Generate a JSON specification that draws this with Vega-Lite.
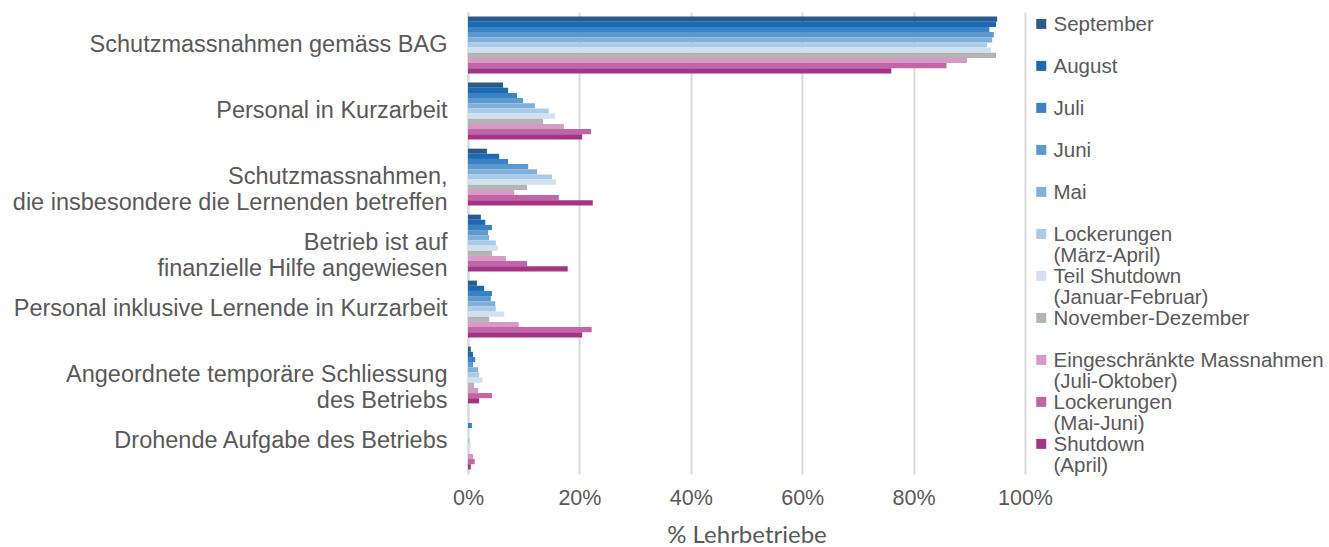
{
  "$schema": "https://vega.github.io/schema/vega-lite/v6.json",
  "width": 557,
  "height": 462,
  "autosize": "none",
  "padding": {"left": 468, "top": 12, "right": 304, "bottom": 73},
  "background": "white",
  "data": {"values": [
    {"kategorie": "Schutzmassnahmen gemäss BAG", "zeitraum": "September", "anteil": 0.950},
    {"kategorie": "Schutzmassnahmen gemäss BAG", "zeitraum": "August", "anteil": 0.948},
    {"kategorie": "Schutzmassnahmen gemäss BAG", "zeitraum": "Juli", "anteil": 0.936},
    {"kategorie": "Schutzmassnahmen gemäss BAG", "zeitraum": "Juni", "anteil": 0.944},
    {"kategorie": "Schutzmassnahmen gemäss BAG", "zeitraum": "Mai", "anteil": 0.941},
    {"kategorie": "Schutzmassnahmen gemäss BAG", "zeitraum": "Lockerungen (März-April)", "anteil": 0.932},
    {"kategorie": "Schutzmassnahmen gemäss BAG", "zeitraum": "Teil Shutdown (Januar-Februar)", "anteil": 0.939},
    {"kategorie": "Schutzmassnahmen gemäss BAG", "zeitraum": "November-Dezember", "anteil": 0.948},
    {"kategorie": "Schutzmassnahmen gemäss BAG", "zeitraum": "Eingeschränkte Massnahmen (Juli-Oktober)", "anteil": 0.896},
    {"kategorie": "Schutzmassnahmen gemäss BAG", "zeitraum": "Lockerungen (Mai-Juni)", "anteil": 0.859},
    {"kategorie": "Schutzmassnahmen gemäss BAG", "zeitraum": "Shutdown (April)", "anteil": 0.760},
    {"kategorie": "Personal in Kurzarbeit", "zeitraum": "September", "anteil": 0.063},
    {"kategorie": "Personal in Kurzarbeit", "zeitraum": "August", "anteil": 0.072},
    {"kategorie": "Personal in Kurzarbeit", "zeitraum": "Juli", "anteil": 0.088},
    {"kategorie": "Personal in Kurzarbeit", "zeitraum": "Juni", "anteil": 0.099},
    {"kategorie": "Personal in Kurzarbeit", "zeitraum": "Mai", "anteil": 0.120},
    {"kategorie": "Personal in Kurzarbeit", "zeitraum": "Lockerungen (März-April)", "anteil": 0.145},
    {"kategorie": "Personal in Kurzarbeit", "zeitraum": "Teil Shutdown (Januar-Februar)", "anteil": 0.156},
    {"kategorie": "Personal in Kurzarbeit", "zeitraum": "November-Dezember", "anteil": 0.135},
    {"kategorie": "Personal in Kurzarbeit", "zeitraum": "Eingeschränkte Massnahmen (Juli-Oktober)", "anteil": 0.172},
    {"kategorie": "Personal in Kurzarbeit", "zeitraum": "Lockerungen (Mai-Juni)", "anteil": 0.221},
    {"kategorie": "Personal in Kurzarbeit", "zeitraum": "Shutdown (April)", "anteil": 0.205},
    {"kategorie": "Schutzmassnahmen, die insbesondere die Lernenden betreffen", "zeitraum": "September", "anteil": 0.034},
    {"kategorie": "Schutzmassnahmen, die insbesondere die Lernenden betreffen", "zeitraum": "August", "anteil": 0.056},
    {"kategorie": "Schutzmassnahmen, die insbesondere die Lernenden betreffen", "zeitraum": "Juli", "anteil": 0.072},
    {"kategorie": "Schutzmassnahmen, die insbesondere die Lernenden betreffen", "zeitraum": "Juni", "anteil": 0.108},
    {"kategorie": "Schutzmassnahmen, die insbesondere die Lernenden betreffen", "zeitraum": "Mai", "anteil": 0.124},
    {"kategorie": "Schutzmassnahmen, die insbesondere die Lernenden betreffen", "zeitraum": "Lockerungen (März-April)", "anteil": 0.151},
    {"kategorie": "Schutzmassnahmen, die insbesondere die Lernenden betreffen", "zeitraum": "Teil Shutdown (Januar-Februar)", "anteil": 0.158},
    {"kategorie": "Schutzmassnahmen, die insbesondere die Lernenden betreffen", "zeitraum": "November-Dezember", "anteil": 0.106},
    {"kategorie": "Schutzmassnahmen, die insbesondere die Lernenden betreffen", "zeitraum": "Eingeschränkte Massnahmen (Juli-Oktober)", "anteil": 0.083},
    {"kategorie": "Schutzmassnahmen, die insbesondere die Lernenden betreffen", "zeitraum": "Lockerungen (Mai-Juni)", "anteil": 0.163},
    {"kategorie": "Schutzmassnahmen, die insbesondere die Lernenden betreffen", "zeitraum": "Shutdown (April)", "anteil": 0.224},
    {"kategorie": "Betrieb ist auf finanzielle Hilfe angewiesen", "zeitraum": "September", "anteil": 0.023},
    {"kategorie": "Betrieb ist auf finanzielle Hilfe angewiesen", "zeitraum": "August", "anteil": 0.031},
    {"kategorie": "Betrieb ist auf finanzielle Hilfe angewiesen", "zeitraum": "Juli", "anteil": 0.043},
    {"kategorie": "Betrieb ist auf finanzielle Hilfe angewiesen", "zeitraum": "Juni", "anteil": 0.036},
    {"kategorie": "Betrieb ist auf finanzielle Hilfe angewiesen", "zeitraum": "Mai", "anteil": 0.038},
    {"kategorie": "Betrieb ist auf finanzielle Hilfe angewiesen", "zeitraum": "Lockerungen (März-April)", "anteil": 0.050},
    {"kategorie": "Betrieb ist auf finanzielle Hilfe angewiesen", "zeitraum": "Teil Shutdown (Januar-Februar)", "anteil": 0.054},
    {"kategorie": "Betrieb ist auf finanzielle Hilfe angewiesen", "zeitraum": "November-Dezember", "anteil": 0.043},
    {"kategorie": "Betrieb ist auf finanzielle Hilfe angewiesen", "zeitraum": "Eingeschränkte Massnahmen (Juli-Oktober)", "anteil": 0.068},
    {"kategorie": "Betrieb ist auf finanzielle Hilfe angewiesen", "zeitraum": "Lockerungen (Mai-Juni)", "anteil": 0.106},
    {"kategorie": "Betrieb ist auf finanzielle Hilfe angewiesen", "zeitraum": "Shutdown (April)", "anteil": 0.179},
    {"kategorie": "Personal inklusive Lernende in Kurzarbeit", "zeitraum": "September", "anteil": 0.016},
    {"kategorie": "Personal inklusive Lernende in Kurzarbeit", "zeitraum": "August", "anteil": 0.029},
    {"kategorie": "Personal inklusive Lernende in Kurzarbeit", "zeitraum": "Juli", "anteil": 0.043},
    {"kategorie": "Personal inklusive Lernende in Kurzarbeit", "zeitraum": "Juni", "anteil": 0.041},
    {"kategorie": "Personal inklusive Lernende in Kurzarbeit", "zeitraum": "Mai", "anteil": 0.049},
    {"kategorie": "Personal inklusive Lernende in Kurzarbeit", "zeitraum": "Lockerungen (März-April)", "anteil": 0.050},
    {"kategorie": "Personal inklusive Lernende in Kurzarbeit", "zeitraum": "Teil Shutdown (Januar-Februar)", "anteil": 0.065},
    {"kategorie": "Personal inklusive Lernende in Kurzarbeit", "zeitraum": "November-Dezember", "anteil": 0.038},
    {"kategorie": "Personal inklusive Lernende in Kurzarbeit", "zeitraum": "Eingeschränkte Massnahmen (Juli-Oktober)", "anteil": 0.091},
    {"kategorie": "Personal inklusive Lernende in Kurzarbeit", "zeitraum": "Lockerungen (Mai-Juni)", "anteil": 0.222},
    {"kategorie": "Personal inklusive Lernende in Kurzarbeit", "zeitraum": "Shutdown (April)", "anteil": 0.205},
    {"kategorie": "Angeordnete temporäre Schliessung des Betriebs", "zeitraum": "September", "anteil": 0.005},
    {"kategorie": "Angeordnete temporäre Schliessung des Betriebs", "zeitraum": "August", "anteil": 0.009},
    {"kategorie": "Angeordnete temporäre Schliessung des Betriebs", "zeitraum": "Juli", "anteil": 0.013},
    {"kategorie": "Angeordnete temporäre Schliessung des Betriebs", "zeitraum": "Juni", "anteil": 0.009},
    {"kategorie": "Angeordnete temporäre Schliessung des Betriebs", "zeitraum": "Mai", "anteil": 0.018},
    {"kategorie": "Angeordnete temporäre Schliessung des Betriebs", "zeitraum": "Lockerungen (März-April)", "anteil": 0.020},
    {"kategorie": "Angeordnete temporäre Schliessung des Betriebs", "zeitraum": "Teil Shutdown (Januar-Februar)", "anteil": 0.026},
    {"kategorie": "Angeordnete temporäre Schliessung des Betriebs", "zeitraum": "November-Dezember", "anteil": 0.011},
    {"kategorie": "Angeordnete temporäre Schliessung des Betriebs", "zeitraum": "Eingeschränkte Massnahmen (Juli-Oktober)", "anteil": 0.018},
    {"kategorie": "Angeordnete temporäre Schliessung des Betriebs", "zeitraum": "Lockerungen (Mai-Juni)", "anteil": 0.043},
    {"kategorie": "Angeordnete temporäre Schliessung des Betriebs", "zeitraum": "Shutdown (April)", "anteil": 0.020},
    {"kategorie": "Drohende Aufgabe des Betriebs", "zeitraum": "September", "anteil": 0.0},
    {"kategorie": "Drohende Aufgabe des Betriebs", "zeitraum": "August", "anteil": 0.0},
    {"kategorie": "Drohende Aufgabe des Betriebs", "zeitraum": "Juli", "anteil": 0.007},
    {"kategorie": "Drohende Aufgabe des Betriebs", "zeitraum": "Juni", "anteil": 0.0},
    {"kategorie": "Drohende Aufgabe des Betriebs", "zeitraum": "Mai", "anteil": 0.0},
    {"kategorie": "Drohende Aufgabe des Betriebs", "zeitraum": "Lockerungen (März-April)", "anteil": 0.003},
    {"kategorie": "Drohende Aufgabe des Betriebs", "zeitraum": "Teil Shutdown (Januar-Februar)", "anteil": 0.005},
    {"kategorie": "Drohende Aufgabe des Betriebs", "zeitraum": "November-Dezember", "anteil": 0.0},
    {"kategorie": "Drohende Aufgabe des Betriebs", "zeitraum": "Eingeschränkte Massnahmen (Juli-Oktober)", "anteil": 0.009},
    {"kategorie": "Drohende Aufgabe des Betriebs", "zeitraum": "Lockerungen (Mai-Juni)", "anteil": 0.012},
    {"kategorie": "Drohende Aufgabe des Betriebs", "zeitraum": "Shutdown (April)", "anteil": 0.005}
  ]},
  "mark": {"type": "bar"},
  "encoding": {
    "y": {
      "field": "kategorie", "type": "nominal",
      "sort": ["Schutzmassnahmen gemäss BAG", "Personal in Kurzarbeit", "Schutzmassnahmen, die insbesondere die Lernenden betreffen", "Betrieb ist auf finanzielle Hilfe angewiesen", "Personal inklusive Lernende in Kurzarbeit", "Angeordnete temporäre Schliessung des Betriebs", "Drohende Aufgabe des Betriebs"],
      "scale": {"paddingInner": 0.14, "paddingOuter": 0.07},
      "axis": {
        "title": null, "ticks": false, "grid": false,
        "domain": true, "domainColor": "#d9d9d9", "domainWidth": 2,
        "labelFont": "Liberation Sans", "labelFontSize": 23.5, "labelColor": "#595959",
        "labelPadding": 21, "labelLimit": 600, "labelAlign": "right", "labelBaseline": "middle",
        "labelExpr": "datum.label == 'Schutzmassnahmen, die insbesondere die Lernenden betreffen' ? ['Schutzmassnahmen,', 'die insbesondere die Lernenden betreffen'] : datum.label == 'Betrieb ist auf finanzielle Hilfe angewiesen' ? ['Betrieb ist auf', 'finanzielle Hilfe angewiesen'] : datum.label == 'Angeordnete temporäre Schliessung des Betriebs' ? ['Angeordnete temporäre Schliessung', 'des Betriebs'] : datum.label"
      }
    },
    "yOffset": {
      "field": "zeitraum", "type": "nominal",
      "sort": ["September", "August", "Juli", "Juni", "Mai", "Lockerungen (März-April)", "Teil Shutdown (Januar-Februar)", "November-Dezember", "Eingeschränkte Massnahmen (Juli-Oktober)", "Lockerungen (Mai-Juni)", "Shutdown (April)"],
      "scale": {"paddingInner": 0, "paddingOuter": 0}
    },
    "x": {
      "field": "anteil", "type": "quantitative",
      "scale": {"domain": [0, 1]},
      "axis": {
        "title": "% Lehrbetriebe", "titleFont": "Lato", "titleFontSize": 24, "titleFontWeight": "normal", "titleColor": "#595959", "titlePadding": 15,
        "values": [0, 0.2, 0.4, 0.6, 0.8, 1], "format": ".0%", "labelFlush": false,
        "labelFont": "Liberation Sans", "labelFontSize": 21.5, "labelColor": "#595959", "labelPadding": 13,
        "ticks": false, "domain": false, "grid": true, "gridColor": "#d9d9d9", "gridWidth": 2
      }
    },
    "color": {
      "field": "zeitraum", "type": "nominal",
      "scale": {
        "domain": ["September", "August", "Juli", "Juni", "Mai", "Lockerungen (März-April)", "Teil Shutdown (Januar-Februar)", "November-Dezember", "Eingeschränkte Massnahmen (Juli-Oktober)", "Lockerungen (Mai-Juni)", "Shutdown (April)"],
        "range": ["#2b5b89", "#1a6ab5", "#3b82c4", "#5b9ad1", "#7fb0da", "#a9cbe8", "#d0e2f2", "#b4b4b4", "#d79ac4", "#c065a6", "#a63486"]
      },
      "legend": {
        "title": null, "orient": "none", "legendX": 563, "legendY": 3, "padding": 0,
        "symbolType": "square", "symbolSize": 100, "symbolStrokeWidth": 0,
        "labelFont": "Liberation Sans", "labelFontSize": 20.5, "labelColor": "#595959",
        "labelOffset": 2, "labelLimit": 400, "rowPadding": 0, "labelBaseline": "top",
        "labelExpr": "indexof(datum.label, ' (') > 0 ? [substring(datum.label, 0, indexof(datum.label, ' (')), substring(datum.label, indexof(datum.label, ' (') + 1)] : [datum.label, ' ']",
        "encode": {
          "labels": {"update": {"dy": {"value": -10.25}, "lineHeight": {"value": 20.6}}},
          "symbols": {"update": {"y": {"value": 8.9}}}
        }
      }
    }
  },
  "config": {"view": {"stroke": null}, "font": "Liberation Sans"}
}
